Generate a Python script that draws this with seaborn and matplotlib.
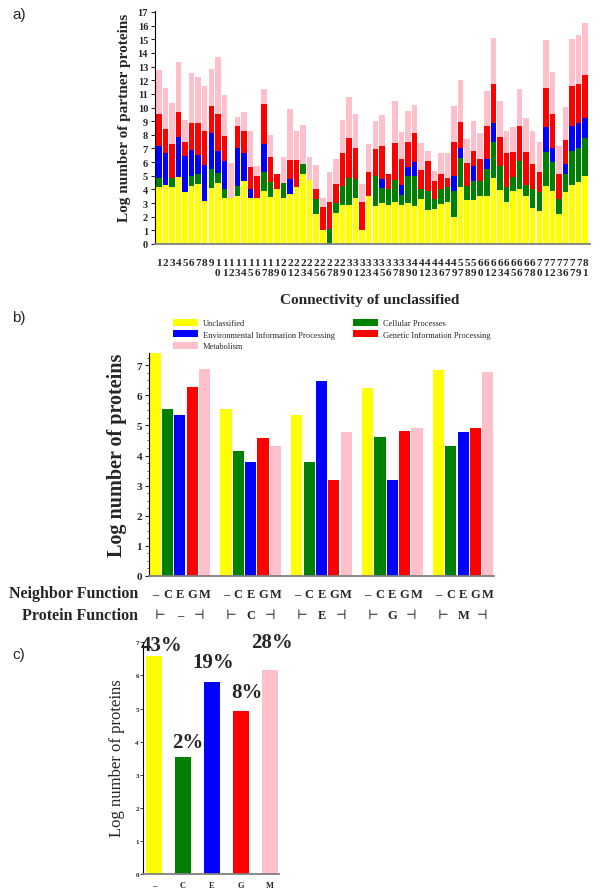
import numpy as np
import pandas as pd
import matplotlib
matplotlib.use('Agg')
import matplotlib.pyplot as plt
import seaborn as sns

### DATA

# panel a : connectivity of unclassified proteins (x) and top of each stacked band
conn = [1, 2, 3, 4, 5, 6, 7, 8, 9,
        10, 11, 12, 13, 14, 15, 16, 17, 18, 19,
        20, 21, 22, 23, 24, 25, 26, 27, 28, 29,
        30, 31, 32, 33, 34, 35, 36, 37, 38, 39,
        40, 41, 42, 43, 46, 47, 49,
        57, 58, 59,
        60, 61, 62, 63, 64, 65, 66, 67, 68,
        70, 71, 72, 73, 76, 77, 79,
        81]

yellow_top = [4.15, 4.35, 4.2, 4.9, 3.8, 4.25, 4.4, 3.15, 4.1, 4.5, 3.35, 3.4, 3.55, 4.6, 3.35, 3.4, 3.9,
              3.45, 4.0, 3.4, 3.65, 4.2, 5.15, 4.7, 2.2, 1.05, 0.0, 2.3, 2.85, 2.85, 3.35, 1.05, 3.5, 2.8,
              3.0, 2.85, 3.1, 2.85, 3.0, 2.8, 3.3, 2.5, 2.55, 2.9, 3.1, 1.95, 4.2, 3.2, 3.25, 3.5, 3.55,
              4.8, 3.95, 3.05, 3.85, 4.0, 3.55, 2.65, 2.4, 4.25, 3.9, 2.2, 3.8, 4.35, 4.55, 5.0]
green_top = [4.85, 4.35, 4.85, 4.9, 3.8, 4.95, 5.15, 3.15, 5.5, 5.2, 4.0, 3.4, 4.25, 4.6, 3.35, 3.4, 5.3,
             4.55, 4.0, 4.5, 3.65, 4.2, 5.85, 4.7, 3.3, 1.05, 1.1, 3.0, 4.25, 4.85, 4.75, 1.05, 3.5, 4.95,
             4.1, 4.0, 4.7, 3.6, 4.95, 4.95, 4.05, 3.9, 3.3, 4.05, 4.2, 3.9, 6.3, 4.25, 4.6, 4.6, 5.5,
             7.45, 5.75, 4.15, 4.9, 6.1, 4.3, 4.05, 3.8, 6.75, 6.0, 3.3, 5.15, 6.85, 7.05, 7.8]
blue_top = [7.15, 6.65, 4.85, 7.85, 6.45, 6.9, 6.5, 5.8, 8.15, 6.8, 6.1, 3.4, 7.0, 6.7, 4.05, 3.4, 7.35,
            4.55, 4.0, 4.5, 4.75, 4.2, 5.85, 4.7, 3.3, 1.05, 1.1, 3.0, 4.25, 4.85, 4.75, 1.05, 3.5, 4.95,
            4.75, 4.0, 4.7, 4.3, 5.65, 6.0, 4.05, 3.9, 3.3, 4.05, 4.2, 5.0, 7.0, 4.25, 5.7, 4.6, 6.25,
            8.85, 5.75, 4.15, 4.9, 6.1, 4.3, 4.05, 3.8, 8.6, 7.05, 3.3, 5.85, 8.65, 8.85, 9.2]
red_top = [9.55, 8.45, 7.3, 9.65, 7.5, 8.85, 8.85, 8.3, 10.1, 9.55, 7.9, 3.4, 8.65, 8.3, 5.65, 4.95, 10.25,
           6.35, 5.1, 4.5, 6.15, 6.15, 5.85, 4.7, 4.05, 2.7, 3.05, 4.4, 6.65, 7.75, 7.05, 3.05, 5.3, 6.95,
           7.15, 5.1, 7.4, 6.25, 7.45, 8.1, 5.45, 6.05, 4.6, 5.1, 4.85, 7.45, 8.95, 5.9, 6.85, 6.2, 8.65,
           11.75, 7.85, 6.65, 6.75, 8.65, 6.75, 5.85, 5.25, 11.45, 9.5, 5.15, 7.65, 11.55, 11.75, 12.35]
pink_top = [12.75, 11.4, 10.3, 13.3, 9.1, 12.5, 12.2, 11.55, 12.85, 13.7, 10.9, 5.9, 9.3, 9.7, 8.3, 5.7, 11.35,
            7.95, 5.1, 6.4, 9.9, 8.25, 8.75, 6.35, 5.8, 3.4, 5.25, 6.2, 9.1, 10.75, 9.55, 4.4, 7.3, 9.0,
            9.45, 5.1, 10.5, 8.2, 9.75, 10.2, 7.4, 6.8, 5.35, 6.7, 6.7, 10.1, 12.05, 7.7, 9.0, 8.15, 11.2,
            15.1, 10.45, 8.3, 8.55, 11.35, 9.2, 8.25, 7.45, 14.95, 12.6, 7.2, 10.05, 15.05, 15.3, 16.2]

# functional classes
func_names = ['Unclassified', 'Cellular Processes', 'Environmental Information Processing',
              'Genetic Information Processing', 'Metabolism']
func_short = ['\u2013', 'C', 'E', 'G', 'M']
func_colors = ['#ffff00', '#008000', '#0000ff', '#ff0000', '#ffc0cb']

# panel b : protein function (groups) x neighbor function (bars)
b_unclassified = [7.4, 5.55, 5.35, 6.25, 6.85]
b_cellular = [5.55, 4.15, 3.8, 4.6, 4.33]
b_environmental = [5.35, 3.8, 6.48, 3.2, 4.77]
b_genetic = [6.27, 4.58, 3.2, 4.8, 4.92]
b_metabolism = [6.88, 4.33, 4.78, 4.93, 6.78]

# panel c
c_values = [6.58, 3.52, 5.79, 4.91, 6.16]
c_percent = ['43%', '2%', '19%', '8%', '28%']

### STYLE

sns.set_style('ticks')
plt.rcParams['font.family'] = ['Liberation Serif', 'DejaVu Serif', 'DejaVu Sans']
plt.rcParams['axes.linewidth'] = 0.8
GREY = '#808080'

fig = plt.figure(figsize=(6, 8.95), dpi=100)


def style_axis(ax):
    for s in ['top', 'right']:
        ax.spines[s].set_visible(False)
    ax.spines['bottom'].set_color(GREY)
    ax.spines['bottom'].set_linewidth(1.3)
    ax.spines['left'].set_color('black')
    ax.set_xlabel('')
    ax.set_ylabel('')


### PANEL A

axa = fig.add_axes([155 / 600, 1 - 245 / 895, 435 / 600, 233.4 / 895])
conn_str = [str(c) for c in conn]
# bands drawn back to front, each one overlaid on the taller ones
band_order = ['Metabolism', 'Genetic', 'Environmental', 'Cellular', 'Unclassified']
band_tops = [pink_top, red_top, blue_top, green_top, yellow_top]
band_colors = [func_colors[4], func_colors[3], func_colors[2], func_colors[1], func_colors[0]]
df_a = pd.DataFrame({
    'conn': conn_str * len(band_order),
    'band': np.repeat(band_order, len(conn_str)),
    'top': np.concatenate(band_tops),
})
sns.barplot(data=df_a, x='conn', y='top', hue='band', order=conn_str, hue_order=band_order,
            palette=band_colors, dodge=False, width=0.84, saturation=1, errorbar=None,
            linewidth=0, legend=False, ax=axa)
style_axis(axa)
axa.set_xlim(-0.58, 65.73)
axa.set_ylim(0, 17.1)
axa.set_yticks(range(18))
axa.set_xticks(range(len(conn_str)))
axa.set_xticklabels(['\n'.join(s) for s in conn_str], fontsize=8, fontweight='bold')
axa.tick_params(axis='x', length=0, pad=10)
axa.tick_params(axis='y', length=3, width=0.8, pad=2, labelsize=7.5)
for t in axa.get_yticklabels():
    t.set_fontweight('bold')
axa.set_xlabel('Connectivity of unclassified', fontsize=11, fontweight='bold')
axa.xaxis.set_label_coords(0.494, -0.236)
axa.xaxis.label.set_va('center')
axa.set_ylabel('Log number of partner proteins', fontsize=11, fontweight='bold')
axa.yaxis.set_label_coords(-0.071, 0.544)
axa.yaxis.label.set_va('center')

### PANEL B

axb = fig.add_axes([149 / 600, 1 - 577 / 895, 345 / 600, 223.5 / 895])
df_b = pd.DataFrame({
    'protein': np.repeat(func_short, 5),
    'neighbor': np.tile(func_names, 5),
    'value': np.ravel(np.column_stack([b_unclassified, b_cellular, b_environmental,
                                       b_genetic, b_metabolism])),
})
sns.barplot(data=df_b, x='protein', y='value', hue='neighbor', order=func_short,
            hue_order=func_names, palette=func_colors, width=0.87, gap=0.1,
            saturation=1, errorbar=None, linewidth=0, ax=axb)
handles, labels = axb.get_legend_handles_labels()
axb.get_legend().remove()
style_axis(axb)
axb.set_xlim(-0.435, 4.435)
axb.set_ylim(0, 7.42)
axb.set_yticks(range(8))
axb.set_yticks(np.arange(0, 7.4, 0.25), minor=True)
axb.tick_params(axis='y', which='major', length=3, width=0.8, pad=2, labelsize=8)
axb.tick_params(axis='y', which='minor', length=1.5, width=0.5)
for t in axb.get_yticklabels():
    t.set_fontweight('bold')

slot = 0.87 / 5
centers = [g - 0.435 + slot * (k + 0.5) for g in range(5) for k in range(5)]
axb.set_xticks(centers)
axb.set_xticklabels(func_short * 5, fontsize=9, fontweight='bold')
axb.tick_params(axis='x', length=0, pad=9)
for g, p in enumerate(func_short):
    for dx, s in [(-0.28, '\u22a2'), (0, p), (0.27, '\u22a3')]:
        axb.annotate(s, xy=(g + dx, 0), xycoords=('data', 'axes fraction'),
                     xytext=(0, -28), textcoords='offset points', ha='center', va='center',
                     fontsize=9, fontweight='bold' if dx == 0 else 'normal')
axb.set_ylabel('Log number of proteins', fontsize=14.5, fontweight='bold')
axb.yaxis.set_label_coords(-0.093, 0.546)
axb.yaxis.label.set_va('center')

order = [0, 2, 4, 1, 3]
fig.legend([handles[i] for i in order], [labels[i] for i in order], ncol=2,
           loc='upper left', bbox_to_anchor=(173 / 600, 1 - 320 / 895), frameon=False,
           fontsize=6, handlelength=3.0, handleheight=0.9, handletextpad=0.6,
           columnspacing=2.2, borderpad=0, borderaxespad=0, labelspacing=0.36)

fig.text(138 / 600, 1 - 594 / 895, 'Neighbor Function', ha='right', va='center',
         fontsize=11.5, fontweight='bold')
fig.text(138 / 600, 1 - 616 / 895, 'Protein Function', ha='right', va='center',
         fontsize=11.5, fontweight='bold')

### PANEL C

axc = fig.add_axes([143 / 600, 1 - 875 / 895, 136 / 600, 231.7 / 895])
sns.barplot(x=func_short, y=c_values, hue=func_short, palette=func_colors, legend=False,
            width=0.58, saturation=1, errorbar=None, linewidth=0, ax=axc)
style_axis(axc)
axc.set_xlim(-0.38, 4.31)
axc.set_ylim(0, 7.0)
axc.set_yticks(range(8))
axc.tick_params(axis='y', length=2, width=0.6, pad=1, labelsize=5)
axc.tick_params(axis='x', length=0, pad=5, labelsize=6)
for t in axc.get_yticklabels() + axc.get_xticklabels():
    t.set_fontweight('bold')
label_shift = [(8, 1), (5, 5), (1, 10), (6, 9), (2, 18)]  # px right / above bar top
for i, (v, pct) in enumerate(zip(c_values, c_percent)):
    dx, dy = label_shift[i]
    axc.annotate(pct, xy=(i, v), xytext=(dx * 0.72, dy * 0.72), textcoords='offset points',
                 ha='center', va='bottom', fontsize=15, fontweight='bold', annotation_clip=False)
axc.set_ylabel('Log number of proteins', fontsize=12)
axc.yaxis.set_label_coords(-0.19, 0.505)
axc.yaxis.label.set_va('center')

### PANEL LETTERS

for y, lab in [(15, 'a)'), (318, 'b)'), (655, 'c)')]:
    fig.text(12 / 600, 1 - y / 895, lab, fontsize=11, family='Liberation Sans', va='center')

fig.savefig('out.png', dpi=100)
